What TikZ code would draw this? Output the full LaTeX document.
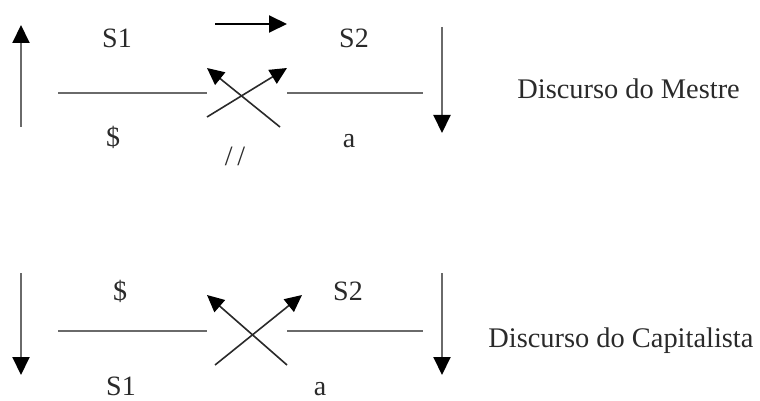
\documentclass[tikz,border=0pt]{standalone}
\usepackage{fontspec}
\setmainfont{Liberation Serif}
\usepackage{xcolor}
\usetikzlibrary{arrows.meta}
\definecolor{shaft}{HTML}{6A6A6A}
\definecolor{ink}{HTML}{2A2A2A}
\tikzset{
    every picture/.style={line cap=butt,line join=miter},
    lbl/.style={anchor=base,inner sep=0pt,text=ink,
      font=\fontsize{14}{16}\selectfont},
    title/.style={anchor=base west,inner sep=0pt,text=ink,
      font=\fontsize{14.2}{16}\selectfont},
    barline/.style={draw=shaft,line width=1pt},
    flowarrow/.style={-{Triangle[length=9pt,width=8.5pt,color=black]},
      draw=shaft,line width=1pt},
    crossarrow/.style={-{Triangle[length=8.5pt,width=8pt,color=black]},
      draw=ink,line width=0.8pt}
}
\begin{document}
\begin{tikzpicture}[x=0.5pt,y=-0.5pt]
  \useasboundingbox (0,0) rectangle (760,401);
  % discurso do mestre
  \node[lbl] (mS1) at (117,48){S1};
  \node[lbl] (mS2) at (354,48){S2};
  \node[lbl] (mdollar) at (113,147){\$};
  \node[lbl] (ma) at (349,148){a};
  \node[lbl] (mslash) at (235,165){/\,/};
  \node[title] (mtitle) at (517,98){Discurso do Mestre};
  \coordinate (mupA) at (21,127);   \coordinate (mupB) at (21,25);
  \coordinate (mdnA) at (442,27);   \coordinate (mdnB) at (442,133);
  \coordinate (mtopA) at (215,24);  \coordinate (mtopB) at (287,24);
  \coordinate (mbarA) at (58,93);   \coordinate (mbarB) at (207,93);
  \coordinate (mbarC) at (287,93);  \coordinate (mbarD) at (423,93);
  \coordinate (mxA) at (207,117);   \coordinate (mxB) at (287,68);
  \coordinate (mxC) at (280,127);   \coordinate (mxD) at (207,68);
  \draw[flowarrow] (mupA)--(mupB);
  \draw[flowarrow] (mdnA)--(mdnB);
  \draw[flowarrow,draw=black] (mtopA)--(mtopB);
  \draw[barline] (mbarA)--(mbarB);
  \draw[barline] (mbarC)--(mbarD);
  \draw[crossarrow] (mxA)--(mxB);
  \draw[crossarrow] (mxC)--(mxD);
  % discurso do capitalista
  \node[lbl] (cdollar) at (120,300){\$};
  \node[lbl] (cS2) at (348,300){S2};
  \node[lbl] (cS1) at (121,395){S1};
  \node[lbl] (ca) at (320,395){a};
  \node[title] (ctitle) at (488,347){Discurso do Capitalista};
  \coordinate (cdnA) at (21,273);   \coordinate (cdnB) at (21,375);
  \coordinate (cdnC) at (442,273);  \coordinate (cdnD) at (442,375);
  \coordinate (cbarA) at (58,331);  \coordinate (cbarB) at (207,331);
  \coordinate (cbarC) at (287,331); \coordinate (cbarD) at (423,331);
  \coordinate (cxA) at (215,365);   \coordinate (cxB) at (302,295);
  \coordinate (cxC) at (287,365);   \coordinate (cxD) at (207,295);
  \draw[flowarrow] (cdnA)--(cdnB);
  \draw[flowarrow] (cdnC)--(cdnD);
  \draw[barline] (cbarA)--(cbarB);
  \draw[barline] (cbarC)--(cbarD);
  \draw[crossarrow] (cxA)--(cxB);
  \draw[crossarrow] (cxC)--(cxD);
\end{tikzpicture}
\end{document}
